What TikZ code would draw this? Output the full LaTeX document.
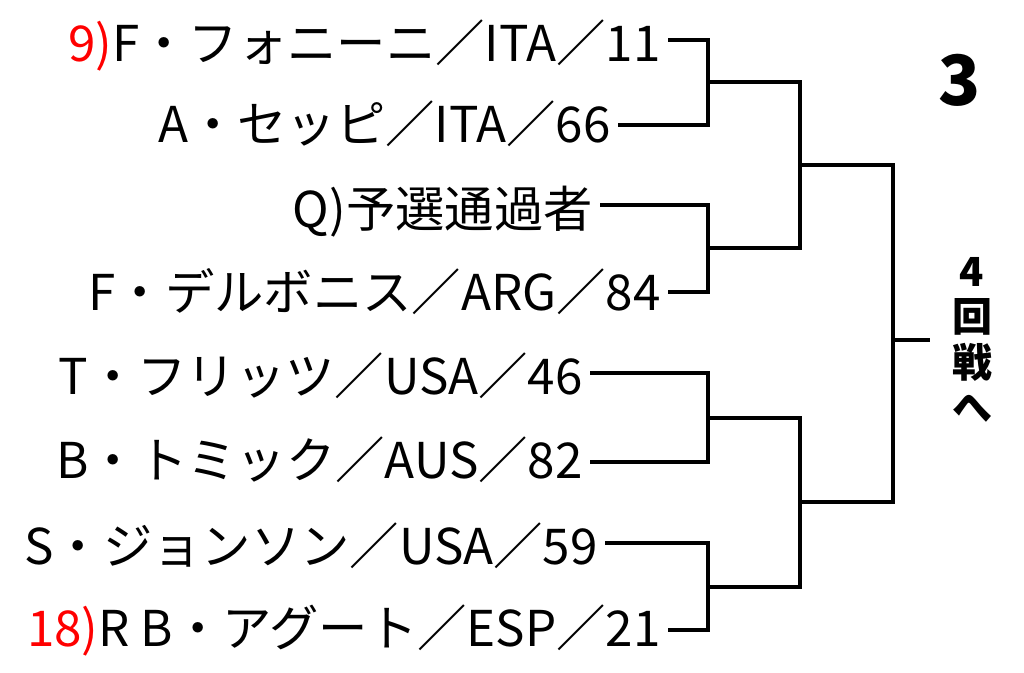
\documentclass[tikz,border=0pt]{standalone}
\usepackage{fontspec}
\setmainfont{Noto Sans CJK JP}
\tikzset{every picture/.style={line width=3pt}}
\tikzset{player/.style={anchor=east,inner sep=4pt,font=\fontsize{37}{37}\selectfont},
  seed/.style={red}}
\begin{document}
\begin{tikzpicture}[x=0.75pt,y=0.75pt,yscale=-1]
\useasboundingbox (0,0) rectangle (1024,673);

% Players
\node[player] (p1) at (668,45) {\textcolor{red}{9)}F・フォニーニ／ITA／11};
\node[player] (p2) at (618,124) {A・セッピ／ITA／66};
\node[player] (p3) at (600,212) {Q)予選通過者};
\node[player] (p4) at (668,292) {F・デルボニス／ARG／84};
\node[player] (p5) at (590,376) {T・フリッツ／USA／46};
\node[player] (p6) at (590,460) {B・トミック／AUS／82};
\node[player] (p7) at (605,546) {S・ジョンソン／USA／59};
\node[player] (p8) at (668,630) {\textcolor{red}{18)}R B・アグート／ESP／21};

% Bracket
\draw (p1.east |- 0,40) -- (708,40) -- (708,125) -- (p2.east |- 0,125);
\draw (p3.east |- 0,205) -- (708,205) -- (708,292) -- (p4.east |- 0,292);
\draw (p5.east |- 0,373) -- (708,373) -- (708,462) -- (p6.east |- 0,462);
\draw (p7.east |- 0,543) -- (708,543) -- (708,630) -- (p8.east |- 0,630);
\draw (708,82) -- (800,82) -- (800,248) -- (708,248);
\draw (708,418) -- (800,418) -- (800,587) -- (708,587);
\draw (800,165) -- (893,165) -- (893,502) -- (800,502);
\draw (893,340) -- (930,340);

% Labels
\node[font=\fontsize{52}{52}\selectfont\bfseries] (blk) at (960,80) {3};
\node[font=\fontsize{30}{34}\selectfont\bfseries,align=center] (next) at (972,340) {4\\回\\戦\\へ};
\end{tikzpicture}
\end{document}
